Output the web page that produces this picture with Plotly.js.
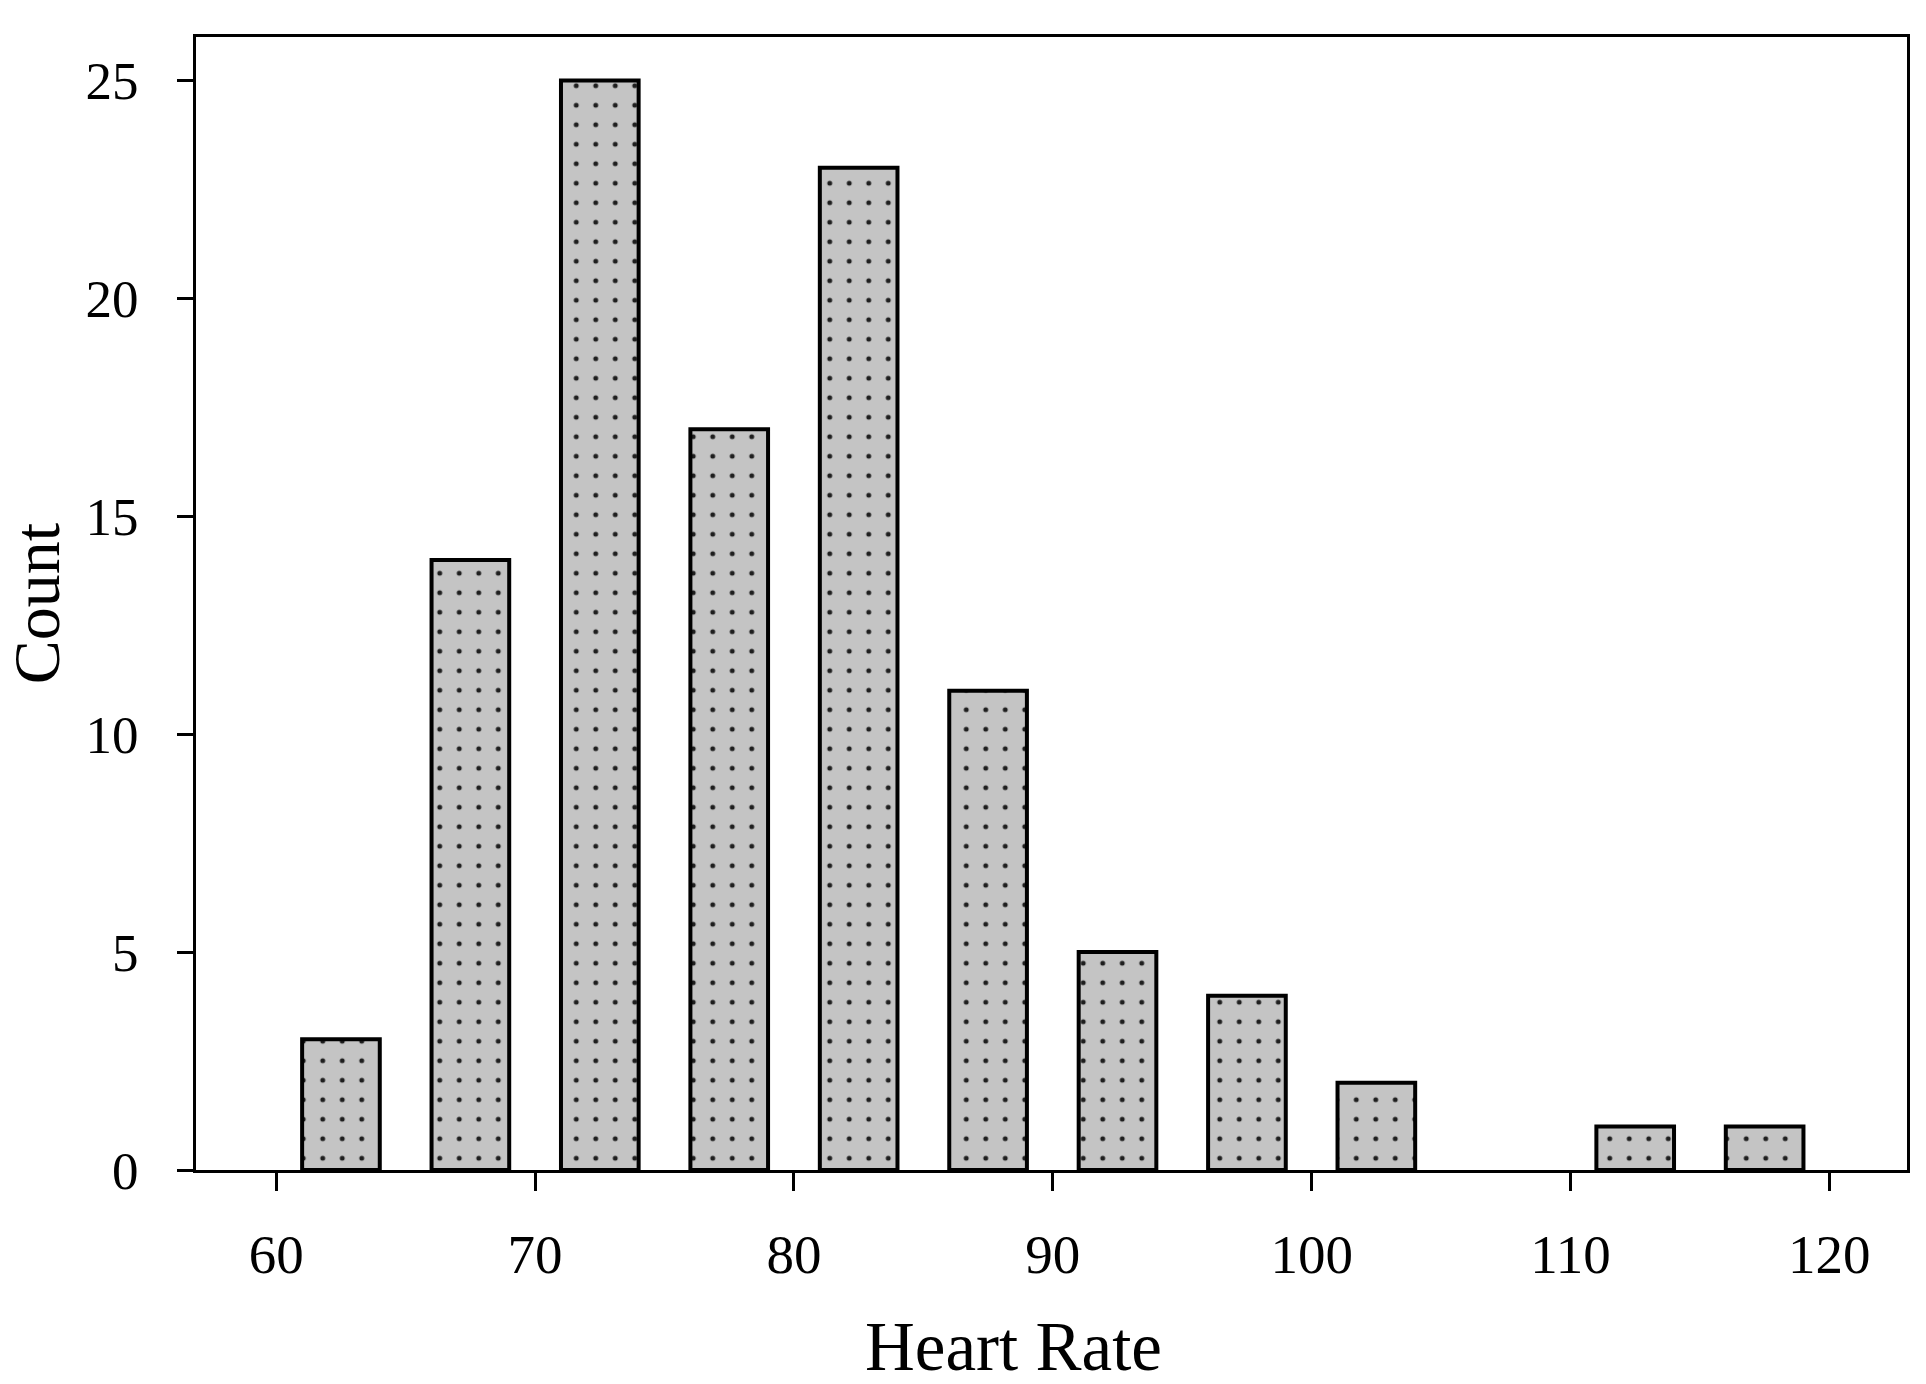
<!DOCTYPE html>
<html>
<head>
<meta charset="utf-8">
<script src="https://cdn.plot.ly/plotly-3.0.1.min.js"></script>
<style>
  html, body { margin: 0; padding: 0; background: #fff; }
  #mydiv { width: 1926px; height: 1384px; }
</style>
</head>
<body>
<div id="mydiv"></div>
<script>
// bin centres of the heart rate histogram (bins 5 wide)
var binCenters = [62.5, 67.5, 72.5, 77.5, 82.5, 87.5, 92.5, 97.5, 102.5, 107.5, 112.5, 117.5];
var counts = [3, 14, 25, 17, 23, 11, 5, 4, 2, 0, 1, 1];

var xTicks = [60, 70, 80, 90, 100, 110, 120];
var yTicks = [0, 5, 10, 15, 20, 25];

var serif = 'Liberation Serif, Times New Roman, serif';

// empty bins get no outline, like the original
var outlineWidths = counts.map(function(c) { return c > 0 ? 4 : 0; });

var bars = {
    x: binCenters,
    y: counts,
    type: 'bar',
    width: 3,
    marker: {
        color: '#c4c4c4',
        line: { color: '#000', width: outlineWidths },
        pattern: {
            shape: '.',
            fillmode: 'replace',
            bgcolor: '#c4c4c4',
            fgcolor: '#1e1e1e',
            size: 19.5,
            solidity: 0.05
        }
    },
    hoverinfo: 'x+y'
};

var layout = {
    width: 1926,
    height: 1384,
    paper_bgcolor: '#fff',
    plot_bgcolor: '#fff',
    showlegend: false,
    margin: { l: 196, r: 19, t: 37, b: 214 },
    font: { family: serif, color: '#000', size: 52 },
    xaxis: {
        range: [56.9, 123],
        tickvals: xTicks,
        ticktext: xTicks.map(String),
        ticks: 'outside',
        ticklen: 18,
        tickwidth: 3,
        tickcolor: '#000',
        ticklabelstandoff: 16,
        tickfont: { family: serif, size: 55 },
        showline: true,
        linecolor: '#000',
        linewidth: 3,
        mirror: true,
        showgrid: false,
        zeroline: false
    },
    yaxis: {
        range: [0, 26],
        tickvals: yTicks,
        ticktext: yTicks.map(String),
        ticks: 'outside',
        ticklen: 16,
        tickwidth: 3,
        tickcolor: '#000',
        ticklabelstandoff: 28,
        tickfont: { family: serif, size: 53 },
        showline: true,
        linecolor: '#000',
        linewidth: 3,
        mirror: true,
        showgrid: false,
        zeroline: false,
        title: { text: 'Count', font: { family: serif, size: 66 }, standoff: 18 }
    },
    // x title sits a little left of the plot centre in the original
    annotations: [{
        text: 'Heart Rate',
        xref: 'paper', yref: 'paper',
        x: 0.4775, y: -0.156,
        xanchor: 'center', yanchor: 'middle',
        showarrow: false,
        font: { family: serif, size: 69, color: '#000' }
    }]
};

// turn the square dot grid into the staggered dot grid of the original
function staggerDots(gd) {
    var pats = gd.querySelectorAll('pattern');
    pats.forEach(function(p) {
        var w = parseFloat(p.getAttribute('width'));
        var h = parseFloat(p.getAttribute('height'));
        if (!w || !h) return;
        var dot = p.querySelector('path');
        var rect = p.querySelector('rect');
        if (!dot) return;
        var fill = dot.style.fill || dot.getAttribute('fill') || '#1e1e1e';
        p.setAttribute('width', 2 * w);
        if (rect) { rect.setAttribute('width', 2 * w); rect.setAttribute('height', h); }
        var ns = 'http://www.w3.org/2000/svg';
        [[w / 2, h / 4], [1.5 * w, 0.75 * h]].forEach(function(c) {
            var circ = document.createElementNS(ns, 'circle');
            circ.setAttribute('cx', c[0]);
            circ.setAttribute('cy', c[1]);
            circ.setAttribute('r', 3);
            circ.style.fill = fill;
            p.appendChild(circ);
        });
        dot.parentNode.removeChild(dot);
    });
}

Plotly.newPlot('mydiv', [bars], layout, { staticPlot: true }).then(staggerDots);
</script>
</body>
</html>
